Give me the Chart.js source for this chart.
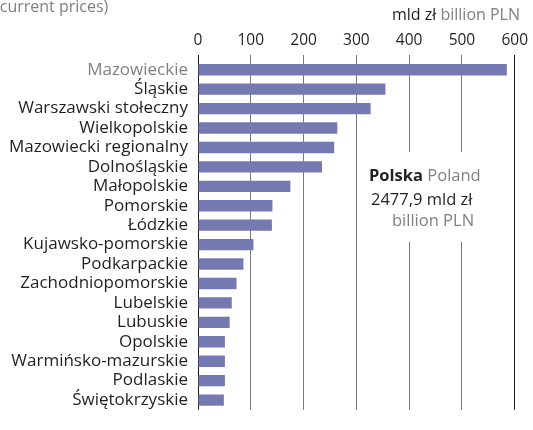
<!DOCTYPE html>
<html>
<head>
<meta charset="utf-8">
<script src="https://cdn.jsdelivr.net/npm/chart.js@4.4.1/dist/chart.umd.min.js"></script>
<style>
  html, body { margin: 0; padding: 0; background: #ffffff; }
  #wrap { width: 533px; height: 430px; position: relative; }
</style>
</head>
<body>
<div id="wrap"><canvas id="gdp"></canvas></div>
<script>
// regiony i PKB (mld zł)
const regions = [
  "Mazowieckie", "Śląskie", "Warszawski stołeczny", "Wielkopolskie",
  "Mazowiecki regionalny", "Dolnośląskie", "Małopolskie", "Pomorskie",
  "Łódzkie", "Kujawsko-pomorskie", "Podkarpackie", "Zachodniopomorskie",
  "Lubelskie", "Lubuskie", "Opolskie", "Warmińsko-mazurskie",
  "Podlaskie", "Świętokrzyskie"
];
const gdpValues = [585, 355, 327, 264, 258, 235, 175, 141, 140, 105, 86, 73, 64, 60, 51, 51, 51, 49];
const axisMin = 0;
const axisMax = 600;
const axisStep = 100;

const unitPl = "mld zł";
const unitEn = "billion PLN";
const subtitle = "(current prices)";
const totalPl = "Polska";
const totalEn = "Poland";
const totalValue = "2477,9 mld zł";

const FONT = "'Open Sans', sans-serif";
const DARK = "#231f20";
const GREY = "#808080";

// tekst nagłówka i ramka z sumą dla Polski
const notes = {
  id: "notes",
  beforeDatasetsDraw(chart) {
    const ctx = chart.ctx;
    ctx.save();
    ctx.fillStyle = "#ffffff";
    ctx.fillRect(365, 152, 147, 90);
    ctx.restore();
  },
  afterDraw(chart) {
    const ctx = chart.ctx;
    ctx.save();
    ctx.textBaseline = "alphabetic";
    ctx.font = "16px " + FONT;
    ctx.fillStyle = GREY;
    ctx.textAlign = "left";
    ctx.fillText(subtitle, -5, 12);

    // jednostka nad osią
    ctx.textAlign = "right";
    const enW = ctx.measureText(unitEn).width;
    ctx.fillText(unitEn, 520, 20);
    ctx.fillStyle = DARK;
    ctx.fillText(unitPl + " ", 520 - enW, 20);

    // Polska
    ctx.textAlign = "left";
    ctx.font = "bold 16.5px " + FONT;
    ctx.fillStyle = DARK;
    ctx.fillText(totalPl, 369, 181);
    const plW = ctx.measureText(totalPl + " ").width;
    ctx.font = "16.5px " + FONT;
    ctx.fillStyle = GREY;
    ctx.fillText(totalEn, 369 + plW, 181);
    ctx.fillStyle = DARK;
    ctx.fillText(totalValue, 371, 205);
    ctx.fillStyle = GREY;
    ctx.fillText(unitEn, 392, 226);
    ctx.restore();
  }
};

new Chart(document.getElementById("gdp"), {
  type: "bar",
  plugins: [notes],
  data: {
    labels: regions,
    datasets: [{
      data: gdpValues,
      backgroundColor: "#7579b1",
      borderWidth: 0,
      categoryPercentage: 1,
      barPercentage: 0.585
    }]
  },
  options: {
    indexAxis: "y",
    responsive: true,
    maintainAspectRatio: false,
    animation: false,
    layout: { padding: { left: 0, top: 0, right: 16, bottom: 1 } },
    plugins: {
      legend: { display: false },
      tooltip: { enabled: false }
    },
    scales: {
      x: {
        position: "top",
        min: axisMin,
        max: axisMax,
        afterFit: (scale) => { scale.height = 60; },
        ticks: {
          stepSize: axisStep,
          padding: 5,
          color: DARK,
          font: { family: FONT, size: 15.5 }
        },
        border: { display: false },
        grid: {
          drawTicks: true,
          tickLength: 5,
          lineWidth: 1,
          color: (c) => (c.tick && (c.tick.value === axisMin || c.tick.value === axisMax)) ? "#1a1a1a" : "#7a7a7a"
        }
      },
      y: {
        afterFit: (scale) => { scale.width = 198; },
        ticks: {
          padding: 10,
          autoSkip: false,
          color: (c) => c.index === 0 ? GREY : DARK,
          font: { family: FONT, size: 17 }
        },
        border: { display: false },
        grid: { display: false, drawTicks: false }
      }
    }
  }
});
</script>
</body>
</html>
